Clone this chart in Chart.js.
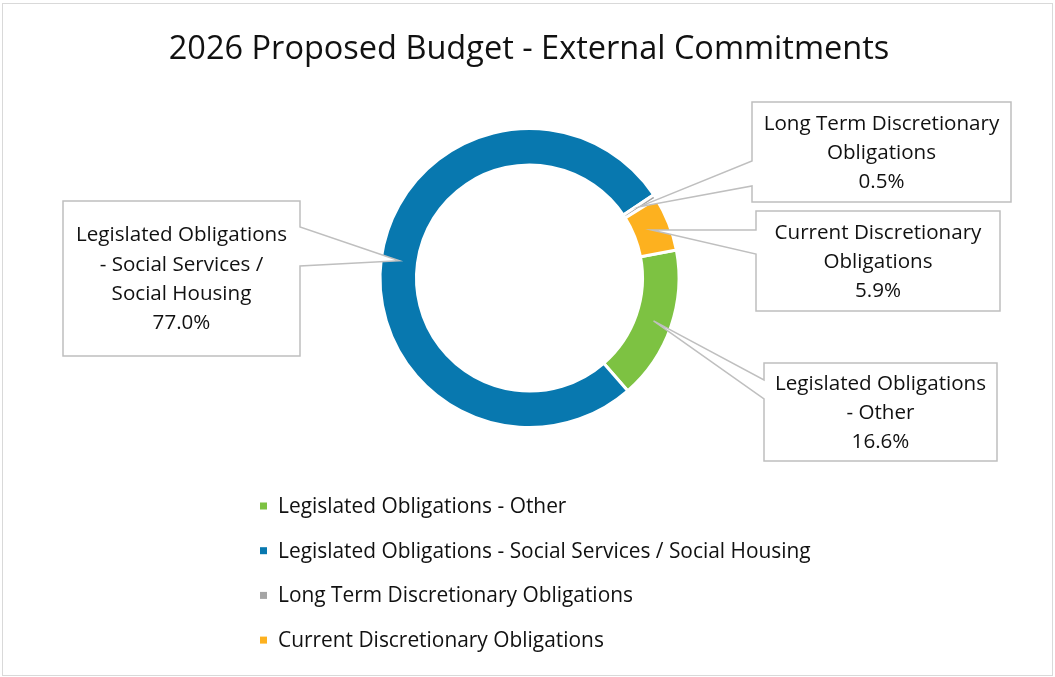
<!DOCTYPE html>
<html lang="en">
<head>
<meta charset="UTF-8">
<title>2026 Proposed Budget - External Commitments</title>
<script src="https://cdn.jsdelivr.net/npm/chart.js"></script>
<style>
  html, body { margin: 0; padding: 0; background: #fff; }
  #wrap { width: 1055px; height: 677px; }
</style>
</head>
<body>
<div id="wrap"><canvas id="budget" width="1055" height="677"></canvas></div>
<script>
// data
const chartTitle = '2026 Proposed Budget - External Commitments';
const categories = [
  'Legislated Obligations - Other',
  'Legislated Obligations - Social Services / Social Housing',
  'Long Term Discretionary Obligations',
  'Current Discretionary Obligations'
];
const shares = [16.6, 77.0, 0.5, 5.9];
const calloutText = [
  ['Legislated Obligations', '- Other'],
  ['Legislated Obligations', '- Social Services /', 'Social Housing'],
  ['Long Term Discretionary', 'Obligations'],
  ['Current Discretionary', 'Obligations']
];
const sliceColors = ['#7dc242', '#0878af', '#a5a5a5', '#fdb11f'];

const FONT = '"Open Sans", Lato, sans-serif';

// callout boxes: rectangle + side of the pointer and where its base sits
const boxes = [
  { l: 764, t: 363, r: 997, b: 461, side: 'left', a: 380, z: 399 },
  { l: 63, t: 201, r: 300, b: 356, side: 'right', a: 227, z: 266 },
  { l: 752, t: 102, r: 1011, b: 202, side: 'left', a: 161, z: 186 },
  { l: 756, t: 211, r: 1000, b: 311, side: 'left', a: 230, z: 254 }
];

const frame = {
  id: 'frame',
  beforeDraw(chart) {
    const c = chart.ctx;
    c.save();
    c.fillStyle = '#fff';
    c.fillRect(0, 0, chart.width, chart.height);
    c.strokeStyle = '#d9d9d9';
    c.lineWidth = 1;
    c.strokeRect(2.5, 3.5, 1050, 672);
    // title
    c.fillStyle = '#111';
    c.font = '32.5px ' + FONT;
    c.textAlign = 'center';
    c.textBaseline = 'alphabetic';
    c.fillText(chartTitle, 529, 59);
    c.restore();
  }
};

const callouts = {
  id: 'callouts',
  afterDatasetsDraw(chart) {
    const c = chart.ctx;
    const arcs = chart.getDatasetMeta(0).data;
    c.save();
    arcs.forEach((arc, i) => {
      const p = arc.getProps(['x', 'y', 'startAngle', 'endAngle', 'innerRadius', 'outerRadius'], true);
      const ang = (p.startAngle + p.endAngle) / 2;
      const rad = (p.innerRadius + p.outerRadius) / 2;
      const px = p.x + Math.cos(ang) * rad;
      const py = p.y + Math.sin(ang) * rad;
      const bx = boxes[i];
      c.beginPath();
      if (bx.side === 'left') {
        c.moveTo(bx.l, bx.t);
        c.lineTo(bx.r, bx.t);
        c.lineTo(bx.r, bx.b);
        c.lineTo(bx.l, bx.b);
        c.lineTo(bx.l, bx.z);
        c.lineTo(px, py);
        c.lineTo(bx.l, bx.a);
      } else {
        c.moveTo(bx.r, bx.t);
        c.lineTo(bx.r, bx.a);
        c.lineTo(px, py);
        c.lineTo(bx.r, bx.z);
        c.lineTo(bx.r, bx.b);
        c.lineTo(bx.l, bx.b);
        c.lineTo(bx.l, bx.t);
      }
      c.closePath();
      c.fillStyle = '#fff';
      c.fill();
      c.strokeStyle = '#bfbfbf';
      c.lineWidth = 1.5;
      c.stroke();

      const lines = calloutText[i].concat([shares[i].toFixed(1) + '%']);
      const lh = 29.3;
      const cx = (bx.l + bx.r) / 2;
      const cy = (bx.t + bx.b) / 2 + 1;
      c.fillStyle = '#111';
      c.font = '20.6px ' + FONT;
      c.textAlign = 'center';
      c.textBaseline = 'middle';
      lines.forEach((s, k) => {
        c.fillText(s, cx, cy + (k - (lines.length - 1) / 2) * lh);
      });
    });

    // legend, one entry per row
    const ds = chart.data.datasets[0];
    c.font = '20.9px ' + FONT;
    c.textAlign = 'left';
    c.textBaseline = 'middle';
    chart.data.labels.forEach((lab, i) => {
      const y = 506 + i * 44.7;
      c.fillStyle = ds.backgroundColor[i];
      c.fillRect(260, y - 3.5, 7, 7);
      c.fillStyle = '#111';
      c.fillText(lab, 278, y + 1);
    });
    c.restore();
  }
};

new Chart(document.getElementById('budget'), {
  type: 'doughnut',
  data: {
    labels: categories,
    datasets: [{
      data: shares,
      backgroundColor: sliceColors,
      borderColor: '#ffffff',
      borderWidth: 3,
      hoverOffset: 0
    }]
  },
  options: {
    responsive: false,
    animation: false,
    rotation: 79.2,
    cutout: '75.6%',
    layout: { padding: { top: 127, bottom: 248, left: 200, right: 196 } },
    plugins: {
      legend: { display: false },
      tooltip: { enabled: false },
      title: { display: false }
    }
  },
  plugins: [frame, callouts]
});
</script>
</body>
</html>
